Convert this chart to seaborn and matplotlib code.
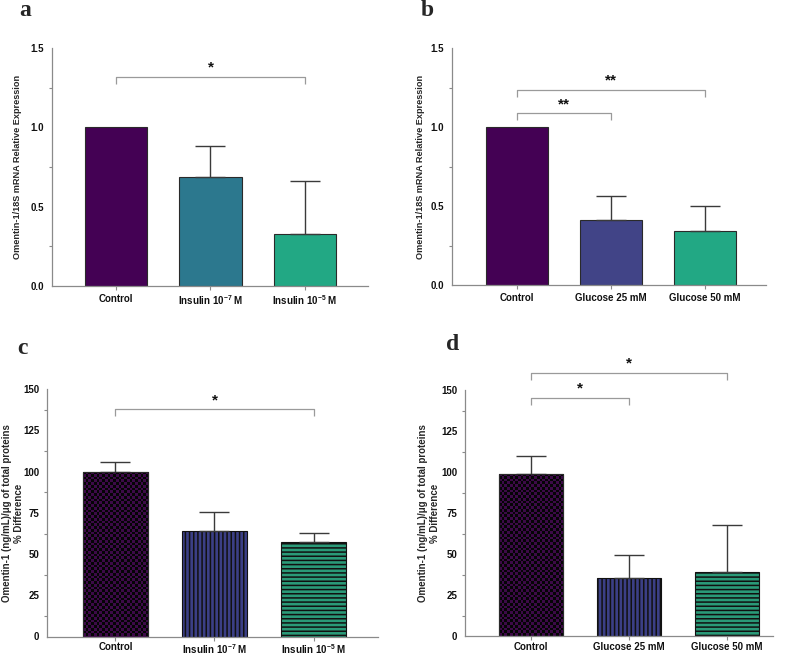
import numpy as np
import pandas as pd
import matplotlib
matplotlib.use("Agg")
import matplotlib.pyplot as plt
import seaborn as sns
from matplotlib.colors import ListedColormap
from matplotlib.patches import Rectangle

# ---------------- data ----------------
cats_ins = ["Control", "Insulin 10$^{-7}$ M", "Insulin 10$^{-5}$ M"]
cats_glu = ["Control", "Glucose 25 mM", "Glucose 50 mM"]

a_vals = [1.0, 0.69, 0.33]
a_err = [0.0, 0.19, 0.33]
b_vals = [1.0, 0.41, 0.343]
b_err = [0.0, 0.155, 0.16]
c_vals = [100.0, 64.0, 57.6]
c_err = [5.8, 11.7, 5.2]
d_vals = [99.0, 35.5, 39.2]
d_err = [11.0, 13.8, 28.5]

# significance brackets: (from, to, level, label)
a_sig = [(0, 2, 1.32, "*")]
b_sig = [(0, 1, 1.09, "**"), (0, 2, 1.237, "**")]
c_sig = [(0, 2, 138, "*")]
d_sig = [(0, 1, 145.4, "*"), (0, 2, 160.6, "*")]

pal_a = ["#440154", "#2c788e", "#22a884"]
pal_b = ["#440154", "#414487", "#22a884"]
pal_c = ["#3d0a48", "#3b3f86", "#2a9a78"]

ylab_top = "Omentin-1/18S mRNA Relative Expression"
ylab_bot = "Omentin-1 (ng/mL)/\u03bcg of total proteins\n% Difference"

# ---------------- style ----------------
sns.set_theme(style="white")
plt.rcParams["font.family"] = ["Liberation Sans", "DejaVu Sans"]
plt.rcParams["font.weight"] = "bold"
plt.rcParams["mathtext.fontset"] = "custom"
plt.rcParams["mathtext.rm"] = "Liberation Sans:bold"
plt.rcParams["mathtext.bf"] = "Liberation Sans:bold"
plt.rcParams["mathtext.it"] = "Liberation Sans:bold:italic"
plt.rcParams["mathtext.sf"] = "Liberation Sans:bold"
plt.rcParams["mathtext.default"] = "rm"
plt.rcParams["hatch.linewidth"] = 1.1

fig = plt.figure(figsize=(7.97, 6.56), dpi=100)
W, H = 797, 656


def add_axes(l, r, t, b):
    return fig.add_axes([l / W, 1 - b / H, (r - l) / W, (b - t) / H])


axA = add_axes(52, 368, 48, 286)
axB = add_axes(452, 766, 48, 285.3)
axC = add_axes(47, 378, 389.3, 636.5)
axD = add_axes(465, 773, 390, 636)

SPINE = "#8a8a8a"
EDGE = "#2a2a2a"


def panel(ax, cats, vals, errs, pal, ylim, major, minor, xlim, sig, ylabel,
          ylab_fs, ylab_x, tick_fs, star_fs, star_dy, drop, xpad, hatched=False):
    df = pd.DataFrame({"cat": cats, "val": vals})
    sns.barplot(data=df, x="cat", y="val", hue="cat", palette=pal, legend=False,
                errorbar=None, width=0.66, edgecolor=EDGE, linewidth=0.8, ax=ax,
                saturation=1)
    xs = np.arange(len(cats))
    vals = np.asarray(vals)
    errs = np.asarray(errs)
    m = errs > 0
    ax.errorbar(xs[m], vals[m], yerr=[np.zeros(m.sum()), errs[m]], fmt="none",
                ecolor="#3a3a3a", elinewidth=1.0, capsize=11, capthick=1.0, zorder=1)
    ax.set_xlim(*xlim)
    ax.set_ylim(*ylim)
    ax.set_yticks(major)
    ax.set_yticks(minor, minor=True)
    ax.set_xlabel("")
    ax.set_ylabel(ylabel, fontsize=ylab_fs, fontweight="bold", linespacing=1.35)
    ax.yaxis.set_label_coords(ylab_x, 0.5)
    for s in ["top", "right"]:
        ax.spines[s].set_visible(False)
    for s in ["left", "bottom"]:
        ax.spines[s].set_color(SPINE)
        ax.spines[s].set_linewidth(0.9)
    ax.tick_params(axis="both", which="both", direction="out", color=SPINE,
                   width=0.8, labelsize=tick_fs, pad=2)
    ax.tick_params(axis="y", which="major", length=3.5)
    ax.tick_params(axis="y", which="minor", length=2.5, left=True)
    ax.tick_params(axis="x", which="major", length=3, bottom=True, pad=xpad)
    for lab in ax.get_xticklabels() + ax.get_yticklabels():
        lab.set_fontweight("bold")
        lab.set_color("#111111")
    for i, j, lev, lab in sig:
        ax.plot([i, i, j, j], [lev - drop, lev, lev, lev - drop], color="#9a9a9a",
                lw=0.9, clip_on=False, solid_capstyle="butt")
        ax.text((i + j) / 2, lev + star_dy, lab, ha="center", va="center",
                fontsize=star_fs, fontweight="bold", color="#111111", clip_on=False)

    if hatched:
        patches = [p for p in ax.patches]
        # control: checkerboard, clipped to bar
        p0 = patches[0]
        x0, w, h = p0.get_x(), p0.get_width(), p0.get_height()
        sx = ax.bbox.width / (xlim[1] - xlim[0])
        sy = ax.bbox.height / (ylim[1] - ylim[0])
        nx = int(round(w * sx / 2.75))
        ny = int(round(h * sy / 2.75))
        grid = (np.add.outer(np.arange(ny), np.arange(nx)) % 2).astype(float)
        im = ax.imshow(grid, cmap=ListedColormap([pal[0], "#050505"]),
                       extent=(x0, x0 + w, 0, h), aspect="auto",
                       interpolation="nearest", zorder=p0.get_zorder() + 0.05,
                       origin="lower")
        im.set_clip_path(p0)
        ax.add_patch(Rectangle((x0, 0), w, h, fill=False, edgecolor=EDGE,
                               lw=0.8, zorder=p0.get_zorder() + 0.1))
        patches[1].set_hatch("||||")
        patches[1].set_edgecolor("#111111")
        patches[2].set_hatch("----")
        patches[2].set_edgecolor("#111111")
        ax.set_xlim(*xlim)
        ax.set_ylim(*ylim)


panel(axA, cats_ins, a_vals, a_err, pal_a, (0, 1.5), [0, 0.5, 1.0, 1.5],
      [0.25, 0.75, 1.25], (-0.68, 2.67), a_sig, ylab_top, 6.6, -0.095, 7, 11,
      0.055, 0.05, 2.5)
axA.set_yticklabels(["0.0", "0.5", "1.0", "1.5"])
panel(axB, cats_glu, b_vals, b_err, pal_b, (0, 1.5), [0, 0.5, 1.0, 1.5],
      [0.25, 0.75, 1.25], (-0.69, 2.65), b_sig, ylab_top, 6.6, -0.086, 7, 11,
      0.055, 0.045, 2.5)
axB.set_yticklabels(["0.0", "0.5", "1.0", "1.5"])
panel(axC, cats_ins, c_vals, c_err, pal_c, (0, 150), [0, 25, 50, 75, 100, 125, 150],
      [12.5, 37.5, 62.5, 87.5, 112.5, 137.5], (-0.69, 2.65), c_sig, ylab_bot,
      7.0, -0.068, 7.0, 11, 5.5, 4.5, 1.0, hatched=True)
panel(axD, cats_glu, d_vals, d_err, pal_c, (0, 150), [0, 25, 50, 75, 100, 125, 150],
      [12.5, 37.5, 62.5, 87.5, 112.5, 137.5], (-0.675, 2.47), d_sig, ylab_bot,
      7.0, -0.08, 7.0, 11, 5.5, 4.5, 1.0, hatched=True)

# panel letters
for lab, x, y in [("a", 25, 11), ("b", 427, 11), ("c", 22, 349), ("d", 453, 345)]:
    fig.text(x / W, 1 - y / H, lab, fontsize=17, fontweight="bold",
             family=["Liberation Serif", "DejaVu Serif"], ha="center", va="center")

fig.savefig("out.png", dpi=100, facecolor="white")
